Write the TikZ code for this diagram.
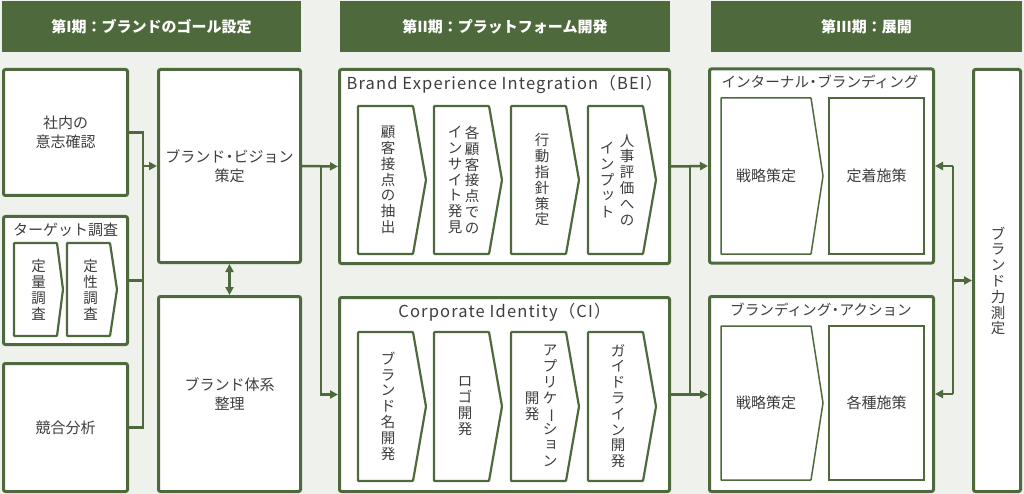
\documentclass[tikz,border=0pt]{standalone}
\usepackage{fontspec}
\usepackage{graphicx}
\setmainfont{Noto Sans CJK JP}
\newfontfamily\latfont{Noto Sans CJK JP}[LetterSpace=7]
\usetikzlibrary{arrows.meta}
\definecolor{grn}{HTML}{4E6A3D}
\definecolor{bgc}{HTML}{EFF2EC}
\definecolor{txt}{HTML}{3E3E3E}
\newcommand\vbar{\rotatebox[origin=c]{-90}{ー}}
\newcommand\smk[1]{\makebox[1em][c]{\hspace*{0.15em}\raisebox{0.15em}{#1}}}
\newcommand\ndot{\hspace{-0.22em}・\hspace{-0.22em}}
\newcommand\mychev[6][chev]{\draw[#1] (#2,#3) -- (#4,#3) -- (#5,{(#3+#6)/2}) -- (#4,#6) -- (#2,#6) -- cycle;}
\tikzset{
  box/.style={draw=grn, line width=3pt, fill=white, rounded corners=2pt, inner sep=0pt, text=txt, font=\fontsize{15}{19}\selectfont, align=center},
  hdr/.style={fill=grn, text=white, inner sep=0pt, font=\fontsize{15}{18}\selectfont\bfseries},
  vt/.style={inner sep=0pt, text=txt, align=center, font=\fontsize{14.5}{15.8}\selectfont},
  lab/.style={inner sep=0pt, text=txt, font=\fontsize{15}{18}\selectfont},
  ttl/.style={inner sep=0pt, text=txt, font=\fontsize{14.6}{17}\selectfont},
  chev/.style={draw=grn, line width=2.2pt, fill=white, rounded corners=0.8pt},
  chevthin/.style={draw=grn, line width=1.5pt, fill=white, rounded corners=0.5pt},
  inbox/.style={draw=grn, line width=1.5pt, fill=white, inner sep=0pt, text=txt, font=\fontsize{15}{18}\selectfont},
  conn/.style={draw=grn, line width=2.5pt},
  arr/.style={conn, -{Triangle[length=8pt,width=8pt]}},
  dbl/.style={conn, {Triangle[length=8pt,width=8pt]}-{Triangle[length=8pt,width=8pt]}},
}
\begin{document}
\begin{tikzpicture}[x=1pt,y=-1pt]
\fill[bgc] (0,0) rectangle (1024,494);
\useasboundingbox (0,0) rectangle (1024,494);
% headers
\node[hdr, minimum width=299pt, minimum height=51pt] (h1) at (151.5,26.5) {第I期：ブランドのゴール設定};
\node[hdr, minimum width=330pt, minimum height=51pt] (h2) at (505,26.5) {第II期：プラットフォーム開発};
\node[hdr, minimum width=311pt, minimum height=51pt] (h3) at (866.5,26.5) {第III期：展開};
% phase I
\node[box, minimum width=124pt, minimum height=126pt] (naibu) at (65.5,132.5) {社内の\\意志確認};
\node[box, minimum width=124pt, minimum height=128pt] (target) at (65.5,280.5) {};
\node[box, minimum width=124pt, minimum height=128pt] (kyogo) at (65.5,427.5) {競合分析};
\node[lab] (targett) at (65.5,230) {ターゲット調査};
\mychev{14}{243}{57}{63}{336}
\mychev{67}{243}{110}{117}{336}
\node[vt] (t1) at (38.5,290) {定\\量\\調\\査};
\node[vt] (t2) at (90.5,290) {定\\性\\調\\査};
\node[box, minimum width=142pt, minimum height=193pt] (vision) at (229.5,166) {ブランド\ndot ビジョン\\策定};
\node[box, minimum width=142pt, minimum height=195pt] (taikei) at (229.5,394) {ブランド体系\\整理};
% phase II
\node[box, minimum width=330pt, minimum height=194pt] (bei) at (504.5,166.5) {};
\node[box, minimum width=330pt, minimum height=194pt] (ci) at (504.5,394.5) {};
\node[lab, font=\fontsize{16.5}{19}\latfont] (beit) at (504.5,85) {Brand Experience Integration（BEI）};
\node[lab, font=\fontsize{16.5}{19}\latfont] (cit) at (504.5,312) {Corporate Identity（CI）};
\mychev{358}{106}{413}{426}{254}
\mychev{434}{106}{489}{502}{254}
\mychev{511}{106}{566}{579}{254}
\mychev{588}{106}{643}{656}{254}
\mychev{358}{332}{413}{426}{481}
\mychev{434}{332}{489}{502}{481}
\mychev{511}{332}{566}{579}{481}
\mychev{588}{332}{643}{656}{481}
\node[vt] (v1) at (388,180) {顧\\客\\接\\点\\の\\抽\\出};
\node[vt] (v2a) at (472,180) {各\\顧\\客\\接\\点\\で\\の};
\node[vt] (v2b) at (455,180) {イ\\ン\\サ\\イ\\ト\\発\\見};
\node[vt] (v3) at (542,180) {行\\動\\指\\針\\策\\定};
\node[vt] (v4a) at (627,180) {人\\事\\評\\価\\へ\\の};
\node[vt] (v4b) at (607,180) {イ\\ン\\プ\\\smk{ッ}\\ト};
\node[vt] (c1) at (388,406) {ブ\\ラ\\ン\\ド\\名\\開\\発};
\node[vt] (c2) at (465,406) {ロ\\ゴ\\開\\発};
\node[vt] (c3a) at (550,406) {ア\\プ\\リ\\ケ\\\vbar\\シ\\\smk{ョ}\\ン};
\node[vt] (c3b) at (532,406) {開\\発};
\node[vt] (c4) at (618,406) {ガ\\イ\\ド\\ラ\\イ\\ン\\開\\発};
% phase III
\node[box, minimum width=224pt, minimum height=194pt] (ib) at (821.5,166) {};
\node[box, minimum width=224pt, minimum height=195pt] (ba) at (821.5,394) {};
\node[ttl] (ibt) at (820,82) {インターナル\ndot ブランディング};
\node[ttl] (bat) at (821,310) {ブランディング\ndot アクション};
\mychev[chevthin]{721}{98}{811}{823}{254}
\mychev[chevthin]{721}{326}{811}{823}{480}
\node[lab] (s1) at (766,176) {戦略策定};
\node[lab] (s2) at (766,403) {戦略策定};
\node[inbox, minimum width=95pt, minimum height=156pt] (tc) at (876.5,176) {定着施策};
\node[inbox, minimum width=95pt, minimum height=154pt] (ks) at (876.5,403) {各種施策};
\node[box, minimum width=47pt, minimum height=422pt] (measure) at (997,280.5) {};
\node[vt] (mt) at (998,281) {ブ\\ラ\\ン\\ド\\力\\測\\定};
% connectors
\coordinate (busB) at (143,427.5);
\draw[conn] (naibu.east) -| (busB) -- (kyogo.east);
\draw[conn] (target.east) -- (target.east -| busB);
\draw[arr] (vision.west -| busB) -- (vision.west);
\draw[dbl] (vision.south) -- (taikei.north);
\coordinate (br1) at (321,166);
\draw[arr] (vision.east) -- (bei.west);
\draw[arr] (br1) |- (ci.west);
\coordinate (br2) at (690,166);
\draw[arr] (bei.east) -- (ib.west);
\draw[conn] (br2) -- (br2 |- ci.east);
\draw[arr] (ci.east) -- (ci.east -| ba.west);
\coordinate (br3t) at (953,166);
\coordinate (br3b) at (953,394);
\draw[arr] (br3t) -- (ib.east);
\draw[conn] (br3t) -- (br3b);
\draw[arr] (br3b) -- (ba.east);
\draw[arr] (measure.west -| br3t) -- (measure.west);
\end{tikzpicture}
\end{document}
